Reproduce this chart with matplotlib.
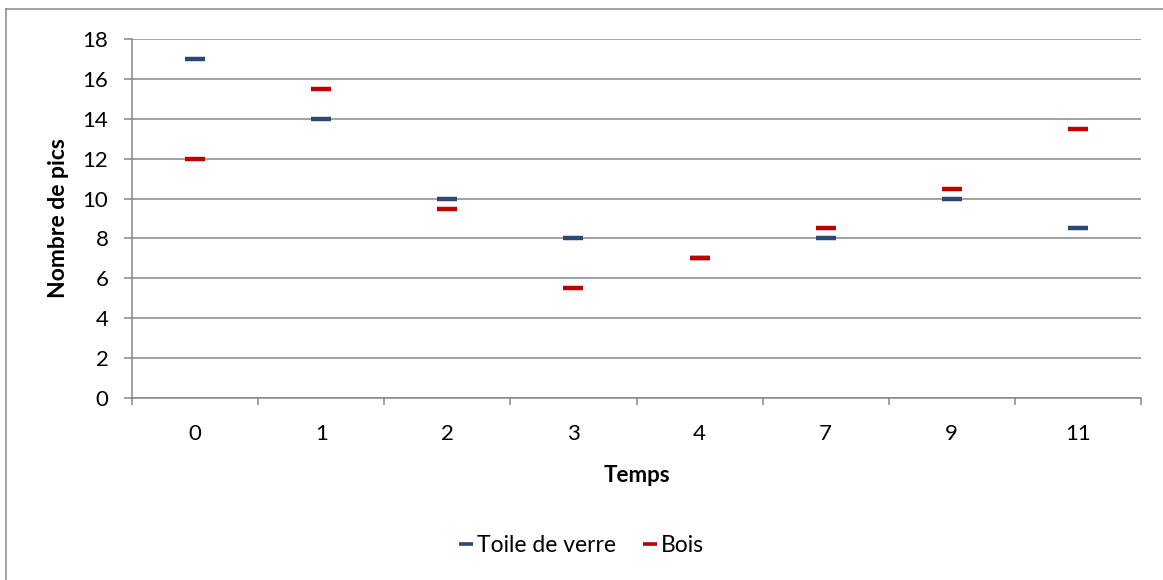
import matplotlib
matplotlib.use("Agg")
import matplotlib.pyplot as plt
from matplotlib.lines import Line2D
import numpy as np

categories = ["0", "1", "2", "3", "4", "7", "9", "11"]
toile_de_verre = [17, 14, 10, 8, 7, 8, 10, 8.5]
bois = [12, 15.5, 9.5, 5.5, 7, 8.5, 10.5, 13.5]
y_ticks = [0, 2, 4, 6, 8, 10, 12, 14, 16, 18]

BLUE = "#2C4675"
RED = "#C00000"
GRID = "#878787"

plt.rcParams['font.family'] = ['Lato', 'DejaVu Sans']

W, H = 1163, 580
fig = plt.figure(figsize=(W / 100, H / 100), dpi=100)
ax = fig.add_axes([132 / W, (H - 398) / H, (1141 - 132) / W, (398 - 39) / H])

x = np.arange(len(categories))
ax.plot(x, toile_de_verre, linestyle="none", marker="_", markersize=14, mew=3.2,
        color=BLUE, label="Toile de verre", zorder=3)
ax.plot(x, bois, linestyle="none", marker="_", markersize=14, mew=3.2,
        color=RED, label="Bois", zorder=4)

ax.set_xlim(-0.5, len(categories) - 0.5)
ax.set_ylim(0, 18)
ax.set_yticks(y_ticks)
ax.set_yticklabels([str(v) for v in y_ticks])
ax.set_xticks(x)
ax.set_xticklabels(categories)
ax.set_xticks(np.arange(-0.5, len(categories), 1.0), minor=True)

ax.grid(axis="y", color=GRID, linewidth=1.1, zorder=0)
ax.set_axisbelow(True)
for s in ["top", "right"]:
    ax.spines[s].set_visible(False)
for s in ["left", "bottom"]:
    ax.spines[s].set_color(GRID)
    ax.spines[s].set_linewidth(1.1)

ax.tick_params(axis="y", length=6, width=1.1, color=GRID, pad=11, labelsize=16)
ax.tick_params(axis="x", which="major", length=0, pad=19, labelsize=16)
ax.tick_params(axis="x", which="minor", length=5, width=1.1, color=GRID)

ax.set_xlabel("Temps", fontsize=16, fontweight="bold", labelpad=15)
ax.set_ylabel("Nombre de pics", fontsize=16.5, fontweight="bold", labelpad=10)

leg = ax.legend(loc="center", bbox_to_anchor=(0.5, (H - 546) / H), bbox_transform=fig.transFigure,
                ncol=2, frameon=False, fontsize=16.5, handlelength=0.6, handletextpad=0.15,
                columnspacing=1.2)
for h in leg.legend_handles:
    h.set_markersize(10)
    h.set_markeredgewidth(2.6)

# outer chart border (top and left visible)
fig.add_artist(Line2D([6 / W, 6 / W], [0, (H - 9) / H], color=GRID, linewidth=1.1))
fig.add_artist(Line2D([6 / W, 1], [(H - 9) / H, (H - 9) / H], color=GRID, linewidth=1.1))

fig.savefig("out.png", dpi=100)
